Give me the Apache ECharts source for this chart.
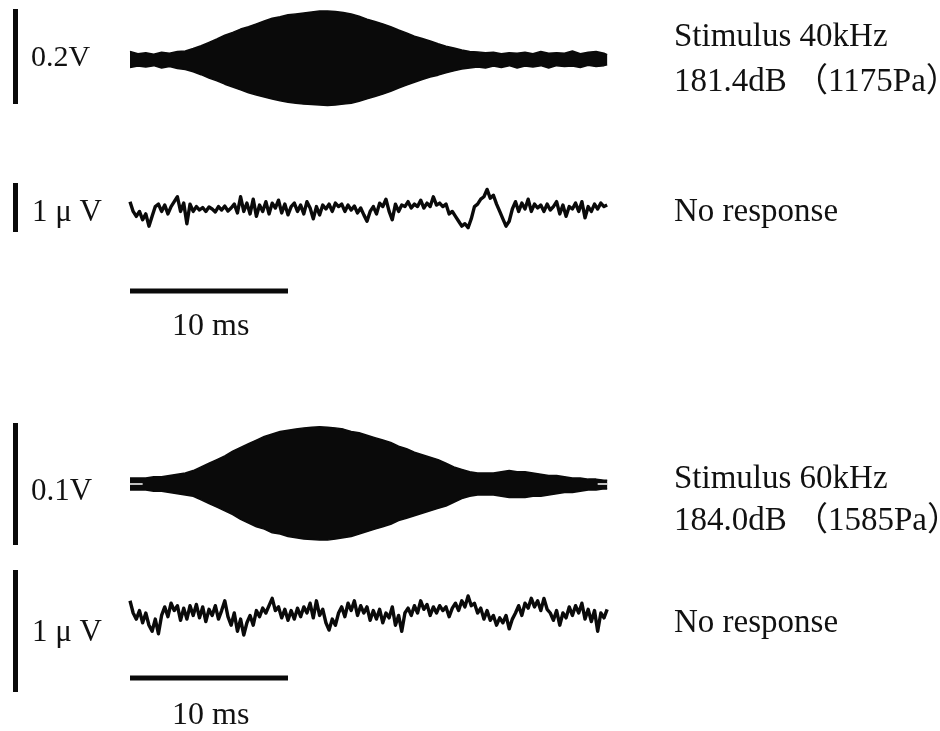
<!DOCTYPE html>
<html><head><meta charset="utf-8">
<script src="https://cdn.jsdelivr.net/npm/echarts@6/dist/echarts.min.js"></script>
<style>html,body{margin:0;padding:0;background:#fff}#c{width:940px;height:731px}</style>
</head><body><div id="c"></div>
<script>
// ---------- DATA ----------
// envelope sample times (ms)
const ENV_T = [0,0.5,1,1.5,2,2.5,3,3.5,4,4.5,5,5.5,6,6.5,7,7.5,8,8.5,9,9.5,10,10.5,11,11.5,12,12.5,13,13.5,14,14.5,15,15.5,16,16.5,17,17.5,18,18.5,19,19.5,20,20.5,21,21.5,22,22.5,23,23.5,24,24.5,25,25.5,26,26.5,27,27.5,28,28.5,29,29.5,30,30.2];
// Stimulus 40 kHz envelope (V)
const STIM40_UP = [0.016,0.011,0.013,0.010,0.014,0.012,0.016,0.017,0.022,0.028,0.035,0.042,0.050,0.056,0.063,0.068,0.074,0.080,0.086,0.089,0.093,0.095,0.097,0.099,0.101,0.101,0.100,0.098,0.095,0.090,0.084,0.079,0.074,0.068,0.061,0.055,0.048,0.043,0.038,0.032,0.027,0.023,0.019,0.016,0.015,0.013,0.014,0.011,0.013,0.012,0.014,0.011,0.016,0.012,0.013,0.012,0.017,0.011,0.014,0.016,0.012,0.009];
const STIM40_LO = [-0.018,-0.015,-0.017,-0.014,-0.019,-0.016,-0.020,-0.022,-0.027,-0.033,-0.040,-0.046,-0.053,-0.059,-0.065,-0.071,-0.076,-0.080,-0.084,-0.088,-0.091,-0.093,-0.095,-0.096,-0.097,-0.098,-0.097,-0.095,-0.093,-0.089,-0.084,-0.079,-0.074,-0.068,-0.061,-0.055,-0.049,-0.043,-0.038,-0.034,-0.029,-0.025,-0.021,-0.019,-0.017,-0.019,-0.015,-0.018,-0.014,-0.019,-0.015,-0.017,-0.014,-0.019,-0.014,-0.016,-0.015,-0.018,-0.013,-0.016,-0.014,-0.012];
// Stimulus 60 kHz envelope (V)
const STIM60_UP = [0.005,0.005,0.005,0.006,0.006,0.007,0.008,0.009,0.011,0.014,0.017,0.020,0.023,0.027,0.030,0.033,0.036,0.039,0.041,0.043,0.044,0.045,0.046,0.0465,0.047,0.0465,0.046,0.045,0.043,0.042,0.040,0.038,0.036,0.034,0.031,0.029,0.026,0.024,0.022,0.020,0.017,0.014,0.012,0.010,0.009,0.009,0.009,0.010,0.011,0.010,0.010,0.009,0.008,0.007,0.007,0.006,0.005,0.005,0.004,0.004,0.003,0.003];
const STIM60_LO = [-0.005,-0.005,-0.005,-0.006,-0.006,-0.007,-0.008,-0.009,-0.010,-0.013,-0.016,-0.019,-0.022,-0.025,-0.029,-0.032,-0.035,-0.037,-0.040,-0.041,-0.043,-0.044,-0.045,-0.0455,-0.046,-0.046,-0.045,-0.044,-0.043,-0.041,-0.039,-0.037,-0.035,-0.033,-0.030,-0.028,-0.026,-0.024,-0.022,-0.020,-0.018,-0.015,-0.012,-0.010,-0.009,-0.009,-0.009,-0.010,-0.011,-0.011,-0.011,-0.010,-0.010,-0.009,-0.008,-0.007,-0.007,-0.006,-0.005,-0.005,-0.004,-0.004];
// carrier gaps visible at the ends of the 60 kHz trace (ms ranges)
const STIM60_GAPS = [[0, 0.8], [29.6, 30.2]];
// responses, sampled every RESP_DT ms (μV)
const RESP_DT = 0.2;
const RESP40 = [0.15,-0.05,-0.15,-0.05,-0.22,-0.1,-0.35,-0.15,0.05,0.1,-0.05,0.08,-0.1,0.05,0.15,0.25,-0.05,0.12,-0.3,0.1,-0.05,0.05,-0.02,0.03,-0.05,0.04,0.0,-0.06,0.05,-0.02,0.06,-0.04,0.02,0.1,-0.08,0.25,-0.05,0.12,-0.1,0.2,-0.15,0.08,-0.05,0.15,-0.1,0.12,0.02,0.18,-0.08,0.1,-0.12,0.05,0.12,-0.05,0.08,-0.1,0.15,0.02,-0.2,0.05,-0.12,0.08,0.0,0.1,-0.05,0.12,0.05,0.1,-0.05,0.08,-0.02,0.06,-0.08,0.02,-0.12,-0.25,-0.05,0.05,-0.1,0.12,0.05,0.2,-0.05,-0.22,0.1,-0.05,0.08,0.05,0.15,0.02,0.1,0.05,0.18,0.02,0.12,0.05,0.25,0.08,0.12,0.05,0.1,-0.1,-0.05,-0.15,-0.25,-0.35,-0.3,-0.38,-0.2,0.05,0.1,0.2,0.25,0.4,0.22,0.28,0.1,-0.05,-0.2,-0.35,-0.25,0.0,0.15,-0.05,0.12,0.0,0.2,-0.05,0.1,0.02,0.08,-0.05,0.1,-0.02,0.05,0.15,-0.1,0.08,-0.15,0.05,0.0,0.12,-0.05,0.15,-0.18,0.05,-0.05,0.1,0.0,0.12,0.05,0.08];
const RESP60 = [0.1,0.0,-0.05,0.02,-0.08,0.0,-0.1,-0.15,-0.05,-0.17,-0.02,0.05,-0.03,0.08,0.02,0.06,-0.06,0.04,-0.05,0.06,-0.02,0.07,-0.04,0.05,-0.07,0.03,-0.02,0.06,-0.05,0.02,0.1,-0.03,-0.1,0.0,-0.15,-0.05,-0.18,-0.08,-0.02,-0.1,0.02,-0.03,0.04,0.0,0.06,0.12,0.02,0.05,-0.04,0.03,-0.06,0.02,-0.05,0.04,-0.03,0.05,0.0,0.08,-0.04,0.1,-0.02,0.03,-0.08,-0.14,-0.05,-0.1,0.0,0.05,-0.03,0.08,0.02,0.1,-0.02,0.06,0.0,0.05,-0.06,0.02,-0.05,0.03,-0.08,0.0,-0.04,0.05,-0.1,-0.02,-0.15,0.0,0.04,-0.02,0.06,0.0,0.1,0.03,0.07,-0.02,0.05,0.0,0.06,0.02,0.05,-0.03,0.04,0.08,0.02,0.1,0.05,0.14,0.06,0.08,0.0,0.04,-0.05,0.02,-0.06,-0.02,-0.1,-0.04,-0.08,-0.02,-0.13,-0.05,0.0,0.06,-0.02,0.08,0.04,0.12,0.05,0.1,0.02,0.12,0.03,0.0,-0.06,0.02,-0.1,0.0,-0.04,0.05,-0.02,0.06,0.0,0.08,-0.05,0.03,-0.07,0.02,-0.15,0.0,-0.04,0.03];
// calibration bar sizes
const CAL_STIM40 = 0.2;   // V
const CAL_RESP40 = 1;     // μV
const CAL_STIM60 = 0.1;   // V
const CAL_RESP60 = 1;     // μV
const CAL_TIME = 10;      // ms
// texts
const LABEL_CAL = ['0.2V', '1 μ V', '0.1V', '1 μ V'];
const LABEL_TIME = '10 ms';
const LABEL_STIM40 = ['Stimulus 40kHz', '181.4dB （1175Pa）'];
const LABEL_STIM60 = ['Stimulus 60kHz', '184.0dB （1585Pa）'];
const LABEL_NORESP = 'No response';

// ---------- LAYOUT ----------
const W = 940, X0 = 130, PX_MS = 15.8;
const BAR_T = (15.5 - X0) / PX_MS;           // vertical calibration bar position (ms)
const panels = [
  {top: 0,   height: 130, center: 59,  ppu: 475},   // stim 40k (px per V)
  {top: 160, height: 200, center: 209, ppu: 49},    // resp 40k (px per μV)
  {top: 400, height: 160, center: 484, ppu: 1220},  // stim 60k
  {top: 565, height: 166, center: 613, ppu: 122}    // resp 60k
];
const grid = [], xAxis = [], yAxis = [];
panels.forEach((p, i) => {
  grid.push({left: 0, width: W, top: p.top, height: p.height});
  xAxis.push({type: 'value', gridIndex: i, min: -X0 / PX_MS, max: (W - X0) / PX_MS, show: false});
  yAxis.push({type: 'value', gridIndex: i, min: -(p.top + p.height - p.center) / p.ppu, max: (p.center - p.top) / p.ppu, show: false});
});
const yAt = (i, px) => (panels[i].center - px) / panels[i].ppu; // layout helper for bar placement

const BLACK = '#0a0a0a';
function env(idx, arr) {
  return {type: 'line', xAxisIndex: idx, yAxisIndex: idx, showSymbol: false, symbol: 'none', silent: true,
    data: ENV_T.map((t, k) => [t, arr[k]]),
    lineStyle: {color: BLACK, width: 1.5}, areaStyle: {color: BLACK, opacity: 1, origin: 0}};
}
function trace(idx, arr) {
  return {type: 'line', xAxisIndex: idx, yAxisIndex: idx, showSymbol: false, symbol: 'none', silent: true,
    data: arr.map((v, k) => [k * RESP_DT, v]),
    lineStyle: {color: BLACK, width: 3.4, join: 'round'}};
}
function vbar(idx, lowPx, size) {
  const lo = yAt(idx, lowPx);
  return {type: 'line', xAxisIndex: idx, yAxisIndex: idx, showSymbol: false, symbol: 'none', silent: true, clip: false,
    data: [[BAR_T, lo], [BAR_T, lo + size]], lineStyle: {color: BLACK, width: 5, cap: 'butt'}};
}
function hbar(idx, yPx) {
  const y = yAt(idx, yPx);
  return {type: 'line', xAxisIndex: idx, yAxisIndex: idx, showSymbol: false, symbol: 'none', silent: true, clip: false,
    data: [[0, y], [CAL_TIME, y]], lineStyle: {color: BLACK, width: 5, cap: 'butt'}};
}
function gap(idx, range) {
  return {type: 'line', xAxisIndex: idx, yAxisIndex: idx, showSymbol: false, symbol: 'none', silent: true, z: 3,
    data: [[range[0], 0], [range[1], 0]], lineStyle: {color: '#fff', width: 1.6, cap: 'butt'}};
}

const series = [
  env(0, STIM40_UP), env(0, STIM40_LO),
  trace(1, RESP40),
  env(2, STIM60_UP), env(2, STIM60_LO),
  ...STIM60_GAPS.map(r => gap(2, r)),
  trace(3, RESP60),
  vbar(0, 104, CAL_STIM40),
  vbar(1, 232, CAL_RESP40),
  vbar(2, 545, CAL_STIM60),
  vbar(3, 692, CAL_RESP60),
  hbar(1, 291),
  hbar(3, 678)
];

const FONT = '"Liberation Serif","Noto Sans CJK JP",serif';
function txt(s, x, baseline, size) {
  return {type: 'text', x: x, y: baseline - 0.34 * size, silent: true,
    style: {text: s, font: size + 'px ' + FONT, fill: '#111', verticalAlign: 'middle', align: 'left'}};
}
const graphic = [
  txt(LABEL_CAL[0], 31, 68, 30),
  txt(LABEL_CAL[1], 32, 223, 31),
  txt(LABEL_CAL[2], 31, 502, 31),
  txt(LABEL_CAL[3], 32, 643, 31),
  txt(LABEL_TIME, 172, 337, 32),
  txt(LABEL_TIME, 172, 726, 32),
  txt(LABEL_STIM40[0], 674, 49, 33),
  txt(LABEL_STIM40[1], 674, 94, 33),
  txt(LABEL_NORESP, 674, 224, 33),
  txt(LABEL_STIM60[0], 674, 491, 33),
  txt(LABEL_STIM60[1], 674, 533, 33),
  txt(LABEL_NORESP, 674, 635, 33)
];

const chart = echarts.init(document.getElementById('c'), null, {renderer: 'canvas'});
chart.setOption({animation: false, backgroundColor: '#fff', grid, xAxis, yAxis, series, graphic});
</script></body></html>
